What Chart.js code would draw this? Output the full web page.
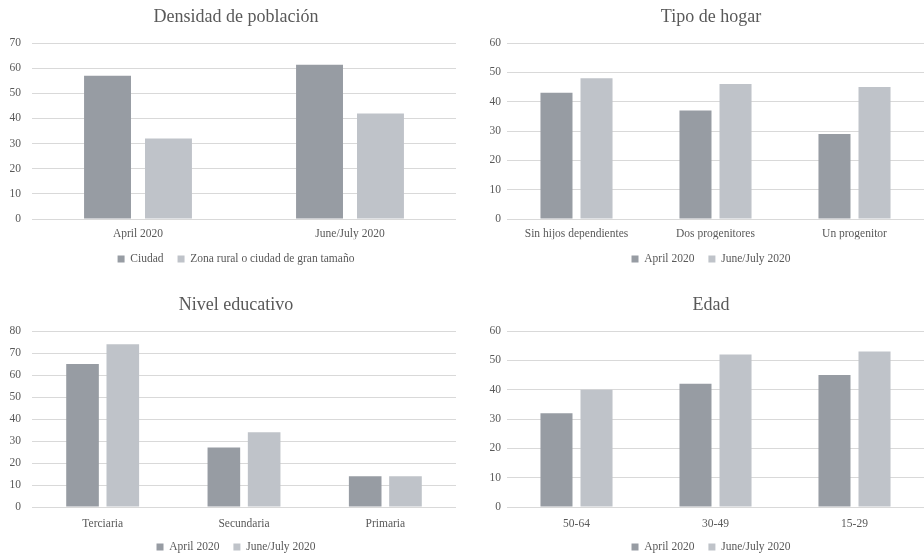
<!DOCTYPE html>
<html>
<head>
<meta charset="utf-8">
<script src="https://cdn.jsdelivr.net/npm/chart.js@4/dist/chart.umd.min.js"></script>
<style>
  html, body { margin: 0; padding: 0; background: #ffffff; overflow: hidden; }
  #wrap { position: relative; width: 924px; height: 554px; overflow: hidden; background: #ffffff; }
  canvas { position: absolute; }
</style>
</head>
<body>
<div id="wrap">
  <canvas id="c1" width="472" height="277" style="left:0px;top:0px;"></canvas>
  <canvas id="c2" width="498" height="277" style="left:462px;top:0px;"></canvas>
  <canvas id="c3" width="472" height="277" style="left:0px;top:288px;"></canvas>
  <canvas id="c4" width="498" height="277" style="left:462px;top:288px;"></canvas>
</div>
<script>
// ---- Data ----
const densidadTitle = 'Densidad de población';
const densidadCategories = ['April 2020', 'June/July 2020'];
const densidadSeriesNames = ['Ciudad', 'Zona rural o ciudad de gran tamaño'];
const densidadCiudad = [57, 61.3];
const densidadRural = [32, 42];
const densidadTicks = [0, 10, 20, 30, 40, 50, 60, 70];

const hogarTitle = 'Tipo de hogar';
const hogarCategories = ['Sin hijos dependientes', 'Dos progenitores', 'Un progenitor'];
const periodNames = ['April 2020', 'June/July 2020'];
const hogarApril = [43, 37, 29];
const hogarJune = [48, 46, 45];
const hogarTicks = [0, 10, 20, 30, 40, 50, 60];

const educTitle = 'Nivel educativo';
const educCategories = ['Terciaria', 'Secundaria', 'Primaria'];
const educApril = [65, 27, 14];
const educJune = [74, 34, 14];
const educTicks = [0, 10, 20, 30, 40, 50, 60, 70, 80];

const edadTitle = 'Edad';
const edadCategories = ['50-64', '30-49', '15-29'];
const edadApril = [32, 42, 45];
const edadJune = [40, 52, 53];
const edadTicks = [0, 10, 20, 30, 40, 50, 60];

// ---- Styling ----
const DARK = '#979ca3';
const LIGHT = '#bfc3c9';
const TEXT = '#595959';
const GRID = '#d9d9d9';
const FONT = "'Liberation Serif', 'Times New Roman', serif";
const TICK_SIZE = 11.5;

function makeChart(id, title, cats, names, s1, s2, ticks, opt) {
  const legendPad = opt.legendPad;
  const plotBottom = 219, legendCenter = 259;
  const xH = legendCenter - plotBottom - legendPad - TICK_SIZE / 2;
  new Chart(document.getElementById(id), {
    type: 'bar',
    data: {
      labels: cats,
      datasets: [
        { label: names[0], data: s1, backgroundColor: DARK, borderWidth: 0,
          categoryPercentage: opt.catPct, barPercentage: opt.barPct },
        { label: names[1], data: s2, backgroundColor: LIGHT, borderWidth: 0,
          categoryPercentage: opt.catPct, barPercentage: opt.barPct }
      ]
    },
    options: {
      responsive: false,
      devicePixelRatio: 1,
      animation: false,
      layout: { padding: { top: 0, left: 0, right: 0, bottom: 2.25 } },
      plugins: {
        tooltip: { enabled: false },
        title: {
          display: true, text: title, color: TEXT,
          font: { family: FONT, size: 18, weight: 'normal' },
          padding: { top: 6.5, bottom: 14.9 }
        },
        legend: {
          display: true, position: 'bottom',
          labels: {
            color: TEXT, boxWidth: 7, boxHeight: 7, padding: legendPad,
            font: { family: FONT, size: TICK_SIZE }
          }
        }
      },
      scales: {
        x: {
          grid: { display: false, drawTicks: false },
          border: { display: false },
          ticks: { color: TEXT, padding: opt.xPad, font: { family: FONT, size: TICK_SIZE }, maxRotation: 0, autoSkip: false },
          afterFit: s => { s.height = xH; }
        },
        y: {
          min: ticks[0], max: ticks[ticks.length - 1],
          afterBuildTicks: s => { s.ticks = ticks.map(v => ({ value: v })); },
          grid: { color: GRID, lineWidth: 1, drawTicks: false },
          border: { display: false },
          ticks: { color: TEXT, padding: opt.yPad, font: { family: FONT, size: TICK_SIZE } },
          afterFit: s => { s.width = opt.yW; }
        },
        yR: {
          type: 'linear', position: 'right', display: true,
          grid: { display: false, drawTicks: false },
          border: { display: false },
          ticks: { display: false },
          afterFit: s => { s.width = opt.rW; }
        }
      }
    }
  });
}

makeChart('c1', densidadTitle, densidadCategories, densidadSeriesNames, densidadCiudad, densidadRural, densidadTicks,
  { legendPad: 14, xPad: 8, catPct: 0.575, barPct: 0.77, yW: 32, yPad: 11, rW: 16 });
makeChart('c2', hogarTitle, hogarCategories, periodNames, hogarApril, hogarJune, hogarTicks,
  { legendPad: 14, xPad: 8, catPct: 0.576, barPct: 0.8, yW: 45, yPad: 6, rW: 36 });
makeChart('c3', educTitle, educCategories, periodNames, educApril, educJune, educTicks,
  { legendPad: 14, xPad: 10, catPct: 0.57, barPct: 0.81, yW: 32, yPad: 11, rW: 16 });
makeChart('c4', edadTitle, edadCategories, periodNames, edadApril, edadJune, edadTicks,
  { legendPad: 14, xPad: 10, catPct: 0.576, barPct: 0.8, yW: 45, yPad: 6, rW: 36 });
</script>
</body>
</html>
